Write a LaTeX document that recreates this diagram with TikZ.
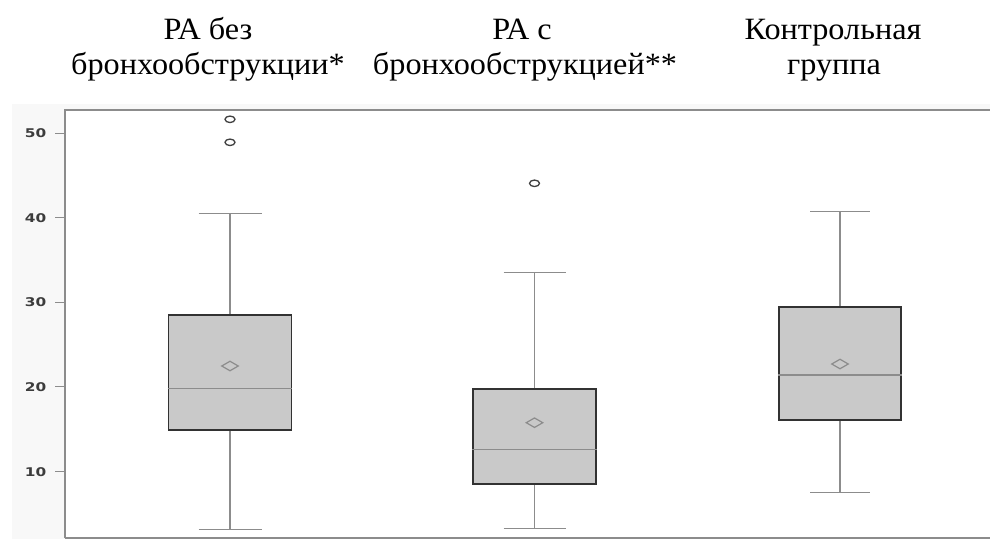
\documentclass[tikz,border=0pt]{standalone}
\usepackage{fontspec}
\usetikzlibrary{shapes.geometric}
\setmainfont{Liberation Serif}
\newfontfamily\titlefont[FakeStretch=1.04]{Liberation Serif}
\newfontfamily\axisfont[FakeStretch=1.28]{DejaVu Sans Bold}
\definecolor{bgpanel}{RGB}{248,248,248}
\definecolor{boxfill}{RGB}{201,201,201}
\definecolor{boxedge}{RGB}{50,50,50}
\definecolor{whisk}{RGB}{140,140,140}
\definecolor{axline}{RGB}{140,140,140}
\definecolor{ticktext}{RGB}{60,60,60}
\tikzset{
  title/.style={font=\titlefont\fontsize{31}{35}\selectfont, anchor=base, inner sep=0pt},
  ticklab/.style={font=\axisfont\fontsize{12}{13}\selectfont, text=ticktext, anchor=east, inner sep=0pt},
  boxbody/.style={draw=boxedge, line width=1.8pt, fill=boxfill},
  whiskline/.style={draw=whisk, line width=1.3pt},
  medline/.style={draw=whisk, line width=1.4pt},
  meanmark/.style={draw=whisk, line width=1.2pt, diamond, minimum width=17pt, minimum height=10pt, inner sep=0pt},
  outmark/.style={draw=black!75, line width=1.3pt, ellipse, minimum width=10pt, minimum height=6.5pt, inner sep=0pt},
  axisline/.style={draw=axline, line width=1.5pt},
}
\newcommand\bxplot[8]{%
  % #1 name, #2 cx, #3 box half width, #4 cap half width, #5 q3 (top y), #6 q1 (bottom y), #7 median y, #8 mean y
  \coordinate (#1-c) at (#2,#7);
  \node[boxbody, minimum width=2*#3pt, minimum height=(#6-#5)*1pt, inner sep=0pt, anchor=north] (#1-box) at (#2,#5) {};
  \draw[medline] (#1-box.west |- #1-c) -- (#1-box.east |- #1-c);
  \node[meanmark] (#1-mean) at (#2,#8) {};
}
\begin{document}
\begin{tikzpicture}[x=1pt,y=-1pt]
\useasboundingbox (0,0) rectangle (990,539);
% panel background
\fill[bgpanel] (12,104) rectangle (990,539);
\fill[white] (65,110) rectangle (990,538);
% axes
\draw[axisline] (65,538) -- (65,110) -- (990,110);
\draw[axisline] (65,538) -- (990,538);
% ticks and labels
\foreach \v/\yy in {50/133.3,40/217.7,30/302.3,20/386.7,10/471.7}{
  \draw[axisline, line width=1.2pt] (55,\yy) -- (65,\yy);
  \node[ticklab] (tick\v) at (46.5,\yy) {\v};
}
% titles
\node[title] (t1a) at (208,39.3) {РА без};
\node[title] (t1b) at (208,74) {бронхообструкции*};
\node[title] (t2a) at (522,39.3) {РА с};
\node[title] (t2b) at (525,74) {бронхообструкцией**};
\node[title] (t3a) at (833,39.3) {Контрольная};
\node[title] (t3b) at (834,74) {группа};
% whiskers
\coordinate (g1-hi) at (230,213.3); \coordinate (g1-lo) at (230,529.3);
\coordinate (g1-top) at (230,314.3); \coordinate (g1-bot) at (230,429.3);
\draw[whiskline] (g1-hi) -- (g1-top);
\draw[whiskline] (g1-bot) -- (g1-lo);
\draw[whiskline] ([xshift=-31.5pt]g1-hi) -- ([xshift=31.5pt]g1-hi);
\draw[whiskline] ([xshift=-31.5pt]g1-lo) -- ([xshift=31.5pt]g1-lo);
\coordinate (g2-hi) at (534.5,272.3); \coordinate (g2-lo) at (534.5,528.3);
\coordinate (g2-top) at (534.5,388); \coordinate (g2-bot) at (534.5,482.7);
\draw[whiskline] (g2-hi) -- (g2-top);
\draw[whiskline] (g2-bot) -- (g2-lo);
\draw[whiskline] ([xshift=-31pt]g2-hi) -- ([xshift=31pt]g2-hi);
\draw[whiskline] ([xshift=-31pt]g2-lo) -- ([xshift=31pt]g2-lo);
\coordinate (g3-hi) at (840,211.7); \coordinate (g3-lo) at (840,492.7);
\coordinate (g3-top) at (840,306); \coordinate (g3-bot) at (840,419.3);
\draw[whiskline] (g3-hi) -- (g3-top);
\draw[whiskline] (g3-bot) -- (g3-lo);
\draw[whiskline] ([xshift=-30pt]g3-hi) -- ([xshift=30pt]g3-hi);
\draw[whiskline] ([xshift=-30pt]g3-lo) -- ([xshift=30pt]g3-lo);
% boxes
\bxplot{b1}{230}{61.5}{31.5}{314.3}{429.3}{388.7}{366}
\bxplot{b2}{534.5}{61.3}{31}{388}{482.7}{449.3}{422.7}
\bxplot{b3}{840}{61}{30}{306}{419.3}{375}{364}
% outliers
\node[outmark] (o1a) at (230,119.3) {};
\node[outmark] (o1b) at (230,142.3) {};
\node[outmark] (o2a) at (534.5,183.3) {};
\end{tikzpicture}
\end{document}
